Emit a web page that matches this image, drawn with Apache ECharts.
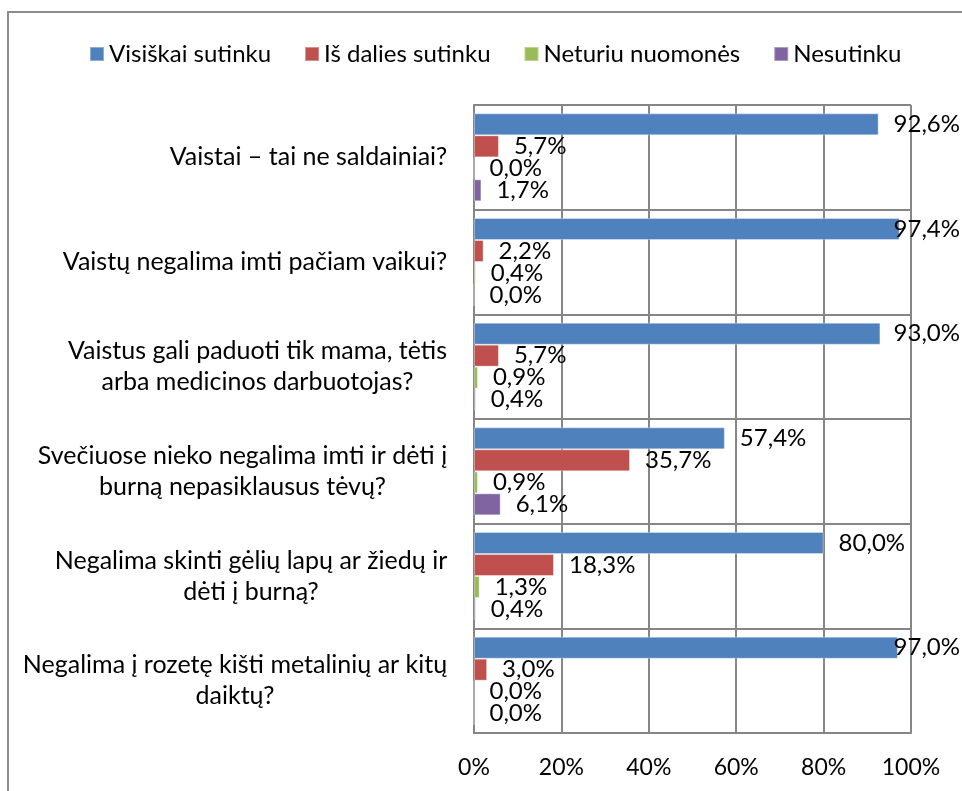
<!DOCTYPE html>
<html>
<head>
<meta charset="utf-8">
<script src="https://cdn.jsdelivr.net/npm/echarts@6/dist/echarts.min.js"></script>
<style>
  html, body { margin: 0; padding: 0; background: #fff; }
  #chart { width: 962px; height: 791px; }
</style>
</head>
<body>
<div id="chart"></div>
<script>
// klausimai (kategorijos), eilutės atskirtos \n kaip paveikslėlyje
var categories = [
  'Vaistai – tai ne saldainiai?',
  'Vaistų negalima imti pačiam vaikui?',
  'Vaistus gali paduoti tik mama, tėtis\narba medicinos darbuotojas?',
  'Svečiuose nieko negalima imti ir dėti į\nburną nepasiklausus tėvų?',
  'Negalima skinti gėlių lapų ar žiedų ir\ndėti į burną?',
  'Negalima į rozetę kišti metalinių ar kitų\ndaiktų?'
];
var seriesNames = ['Visiškai sutinku', 'Iš dalies sutinku', 'Neturiu nuomonės', 'Nesutinku'];
var visiskai = [92.6, 97.4, 93.0, 57.4, 80.0, 97.0];
var isDalies = [5.7, 2.2, 5.7, 35.7, 18.3, 3.0];
var neturiu = [0.0, 0.4, 0.9, 0.9, 1.3, 0.0];
var nesutinku = [1.7, 0.0, 0.4, 6.1, 0.4, 0.0];
var xTicks = [0, 20, 40, 60, 80, 100];

var colors = ['#4F81BD', '#C0504D', '#9BBB59', '#8064A2'];
var FONT = 'Lato';
var CAT_SIZE = 25;

var myChart = echarts.init(document.getElementById('chart'));

// eilučių centravimui reikia žinoti ilgiausios eilutės plotį
var ctx = document.createElement('canvas').getContext('2d');
ctx.font = CAT_SIZE + 'px ' + FONT;
var rich = {};
categories.forEach(function (c, i) {
  var w = 0;
  c.split('\n').forEach(function (l) { w = Math.max(w, ctx.measureText(l).width); });
  rich['c' + i] = { width: Math.ceil(w) + 1, align: 'center', fontSize: CAT_SIZE, lineHeight: 31, color: '#000', fontFamily: FONT };
});

function mkSeries(name, data, color) {
  return {
    name: name,
    type: 'bar',
    data: data,
    barGap: 0,
    barCategoryGap: '16%',
    itemStyle: { color: color, borderColor: 'rgba(255,255,255,0.35)', borderWidth: 1 },
    label: {
      show: true,
      position: 'right',
      distance: 15,
      color: '#000',
      fontSize: 24,
      fontFamily: FONT,
      formatter: function (p) { return p.value.toFixed(1).replace('.', ',') + '%'; }
    },
    // kaip Excel'yje: netelpanti etiketė pastumiama atgal į vidų
    labelLayout: function (p) {
      var over = p.labelRect.x + p.labelRect.width - 960;
      return over > 0 ? { dx: -over } : {};
    }
  };
}

var option = {
  animation: false,
  textStyle: { fontFamily: FONT },
  color: colors,
  graphic: [{
    type: 'rect',
    shape: { x: 8, y: 12, width: 1000, height: 1000 },
    style: { fill: 'none', stroke: '#8c8c8c', lineWidth: 2 },
    silent: true
  }],
  legend: {
    left: 84,
    top: 37,
    itemWidth: 14,
    itemHeight: 14,
    itemGap: 33,
    icon: 'rect',
    textStyle: { fontSize: 24, color: '#000', fontFamily: FONT }
  },
  grid: { left: 474, right: 51, top: 105, bottom: 58, containLabel: false },
  xAxis: {
    type: 'value',
    min: 0,
    max: 100,
    interval: 20,
    axisLine: { show: true, lineStyle: { color: '#868686', width: 2 } },
    axisTick: { show: false },
    splitLine: { show: true, lineStyle: { color: '#868686', width: 2 } },
    axisLabel: {
      margin: 23,
      fontSize: 23,
      color: '#000',
      fontFamily: FONT,
      formatter: function (v) { return xTicks.indexOf(v) >= 0 ? v + '%' : ''; }
    }
  },
  yAxis: {
    type: 'category',
    inverse: true,
    data: categories,
    axisLine: { show: true, lineStyle: { color: '#868686', width: 2 } },
    axisTick: { show: false },
    splitLine: { show: true, lineStyle: { color: '#868686', width: 2 } },
    axisLabel: {
      margin: 26,
      align: 'right',
      rich: rich,
      formatter: function (v, i) {
        return v.split('\n').map(function (l) { return '{c' + i + '|' + l + '}'; }).join('\n');
      }
    }
  },
  series: [
    mkSeries(seriesNames[0], visiskai, colors[0]),
    mkSeries(seriesNames[1], isDalies, colors[1]),
    mkSeries(seriesNames[2], neturiu, colors[2]),
    mkSeries(seriesNames[3], nesutinku, colors[3])
  ]
};

myChart.setOption(option, true);
window.addEventListener('resize', function () {
  myChart.resize();
});
</script>
</body>
</html>
